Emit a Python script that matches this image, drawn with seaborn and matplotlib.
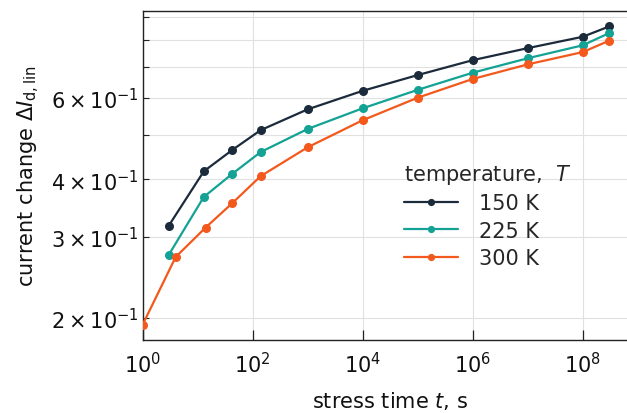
import numpy as np
import pandas as pd
import seaborn as sns
import matplotlib
matplotlib.use("Agg")
import matplotlib.pyplot as plt
from matplotlib.ticker import NullLocator

# ---- data ----
t_150 = [3, 13, 43, 140, 1e3, 1e4, 1e5, 1e6, 1e7, 1e8, 3e8]
d_150 = [0.317, 0.416, 0.463, 0.511, 0.567, 0.622, 0.673, 0.725, 0.770, 0.815, 0.858]
t_225 = [3, 13, 43, 140, 1e3, 1e4, 1e5, 1e6, 1e7, 1e8, 3e8]
d_225 = [0.274, 0.366, 0.411, 0.458, 0.514, 0.570, 0.625, 0.681, 0.732, 0.781, 0.830]
t_300 = [1, 4, 14, 43, 140, 1e3, 1e4, 1e5, 1e6, 1e7, 1e8, 3e8]
d_300 = [0.193, 0.271, 0.314, 0.355, 0.406, 0.469, 0.537, 0.601, 0.660, 0.710, 0.755, 0.799]
temps = ["150 K", "225 K", "300 K"]
colors = ["#1b2b3c", "#13a293", "#f3581c"]
xticks = [1, 1e2, 1e4, 1e6, 1e8]

df = pd.concat([
    pd.DataFrame({"t": t_150, "dI": d_150, "T": temps[0]}),
    pd.DataFrame({"t": t_225, "dI": d_225, "T": temps[1]}),
    pd.DataFrame({"t": t_300, "dI": d_300, "T": temps[2]}),
], ignore_index=True)

sns.set_theme(style="white")
plt.rcParams["font.family"] = ["DejaVu Sans"]
plt.rcParams["mathtext.fontset"] = "dejavusans"

fig = plt.figure(figsize=(6.27, 4.14), dpi=100)
ax = fig.add_axes([0.2273, 0.1763, 0.79, 0.7947])

sns.lineplot(data=df, x="t", y="dI", hue="T", palette=dict(zip(temps, colors)),
             marker="o", markersize=6.5, markeredgewidth=0, linewidth=1.6,
             ax=ax, zorder=3)

ax.set_xscale("log")
ax.set_yscale("log")
ax.set_xlim(1, 1e9)
ax.set_ylim(0.179, 0.927)
ax.set_xticks(xticks)
ax.xaxis.set_minor_locator(NullLocator())

ax.grid(True, which="major", color="#e0e0e0", linewidth=0.8)
ax.grid(True, which="minor", axis="y", color="#e0e0e0", linewidth=0.8)
ax.set_axisbelow(True)

for s in ax.spines.values():
    s.set_color("#222222")
    s.set_linewidth(1.0)

ax.tick_params(axis="both", which="both", direction="in", colors="#222222",
               labelcolor="#111111", labelsize=15)
ax.tick_params(axis="both", which="major", length=7, width=0.9, left=True, bottom=True)
ax.tick_params(axis="both", which="minor", length=4, width=0.8, left=True, bottom=True)
ax.tick_params(axis="x", which="both", pad=8)
ax.tick_params(axis="y", which="both", pad=3)

ax.set_xlabel(r"stress time $t$, s", fontsize=15, color="#111111", labelpad=9)
ax.set_ylabel(r"current change $\Delta I_{\mathrm{d,lin}}$", fontsize=15,
              color="#111111", labelpad=6)

handles, labels = ax.get_legend_handles_labels()
leg = ax.legend(handles, labels, title=r"temperature,  $T$", frameon=False,
                loc="upper left", bbox_to_anchor=(0.498, 0.585), fontsize=15,
                title_fontsize=15, handlelength=2.6, markerscale=0.8,
                borderpad=0.2, labelspacing=0.35, handletextpad=1.0,
                alignment="left")

fig.savefig("out.png", dpi=100)
